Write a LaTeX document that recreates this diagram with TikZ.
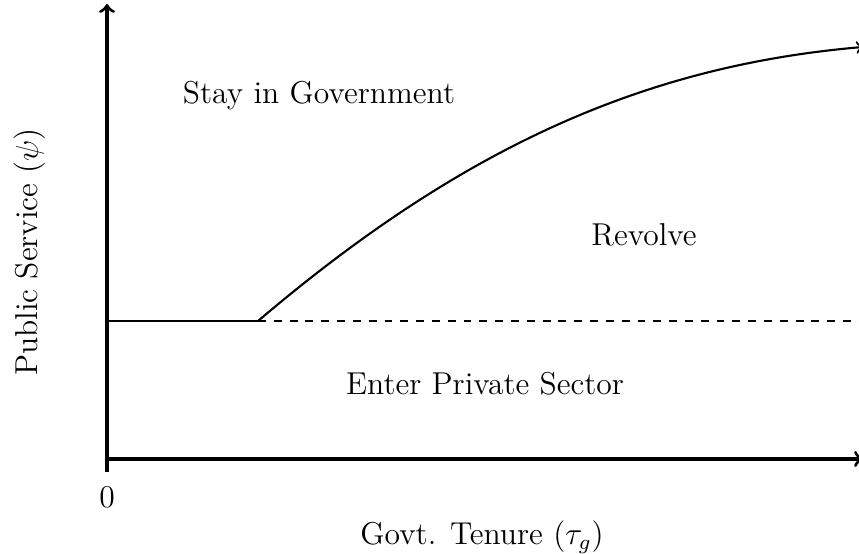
\documentclass[tikz,border=0pt]{standalone}
\begin{document}
\begin{tikzpicture}[x=0.0133333cm,y=-0.0133333cm,
  axis/.style={very thick,->},
  bound/.style={thick},
  lbl/.style={font=\fontsize{12}{14}\selectfont, inner sep=0pt}]
\useasboundingbox (0,0) rectangle (859,554);
\coordinate (o) at (107,459);
\coordinate (ybot) at (107,472);
\coordinate (ytop) at (107,4);
\coordinate (xend) at (863,459);
\coordinate (kink) at (258,321);
\coordinate (left) at (107,321);
\coordinate (cend) at (863,47);
\coordinate (dend) at (859,321);
\draw[axis] (ybot) -- (ytop);
\draw[axis] (o) -- (xend);
\draw[bound] (left) -- (kink);
\draw[bound,->] (kink) .. controls (458,151) and (640,66) .. (cend);
\draw[dashed] (kink) -- (dend);
\node[lbl] (stay) at (319,96) {Stay in Government};
\node[lbl] (rev) at (644,235) {Revolve};
\node[lbl] (priv) at (485,384) {Enter Private Sector};
\node[lbl] (zero) at (107,497) {0};
\node[lbl] (xl) at (482,537) {Govt. Tenure ($\tau_g$)};
\node[lbl,rotate=90] (yl) at (30,252) {Public Service ($\psi$)};
\end{tikzpicture}
\end{document}
